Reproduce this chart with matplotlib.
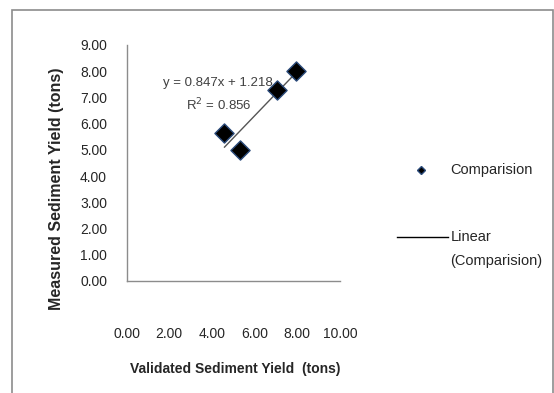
import matplotlib
matplotlib.use("Agg")
import matplotlib.pyplot as plt
from matplotlib.lines import Line2D
from matplotlib.patches import Rectangle
import numpy as np

# Validated vs measured sediment yield (tons)
validated = [4.59, 5.32, 7.03, 7.94]
measured = [5.65, 4.98, 7.30, 8.01]
slope = 0.847
intercept = 1.218
r_squared = 0.856
x_ticks = [0, 2, 4, 6, 8, 10]
y_ticks = [0, 1, 2, 3, 4, 5, 6, 7, 8, 9]

font = ["Liberation Sans Narrow", "Liberation Sans", "DejaVu Sans"]
plt.rcParams["font.family"] = font
text_color = "#262626"

fig = plt.figure(figsize=(5.54, 3.93), dpi=100)
fig.patch.set_facecolor("white")

# outer chart-area frame
fig.patches.append(Rectangle((12 / 554, -0.05), 541 / 554, 1.05 - 10 / 393,
                             transform=fig.transFigure, fill=False,
                             edgecolor="#8c8c8c", linewidth=1.2))

ax = fig.add_axes([126.5 / 554, 1 - 281 / 393, (340 - 126.5) / 554, (281 - 45) / 393])
ax.set_xlim(0, 10)
ax.set_ylim(0, 9)
for s in ("top", "right"):
    ax.spines[s].set_visible(False)
for s in ("left", "bottom"):
    ax.spines[s].set_color("#8c8c8c")
    ax.spines[s].set_linewidth(1.0)

ax.set_xticks(x_ticks)
ax.set_yticks(y_ticks)
ax.set_xticklabels([f"{v:.2f}" for v in x_ticks])
ax.set_yticklabels([f"{v:.2f}" for v in y_ticks])
ax.tick_params(axis="x", length=0, pad=33, labelsize=10, labelcolor=text_color)
ax.tick_params(axis="y", length=0, pad=14, labelsize=10, labelcolor=text_color)

ax.scatter(validated, measured, marker="D", s=95, facecolor="black",
           edgecolor="#2a4a7a", linewidth=1.0, zorder=3)

xfit = np.array([min(validated), max(validated)])
ax.plot(xfit, slope * xfit + intercept, color="#555555", linewidth=1.0, zorder=2)

ax.text(4.3, 7.55, f"y = {slope:.3f}x + {intercept:.3f}", ha="center", va="center",
        fontsize=9.5, color="#404040", zorder=4)
ax.text(4.3, 6.7, f"R$^2$ = {r_squared:.3f}", ha="center", va="center",
        fontsize=9.5, color="#404040", zorder=4)

ax.set_xlabel("Validated Sediment Yield  (tons)", fontsize=10, fontweight="bold",
              color=text_color)
ax.set_ylabel("Measured Sediment Yield (tons)", fontsize=11.5, fontweight="bold",
              color=text_color)
ax.xaxis.set_label_coords(0.51, -0.345)
ax.yaxis.set_label_coords(-0.295, 0.39)

# legend
fig.add_artist(Line2D([420.5 / 554], [1 - 169.6 / 393], marker="D", markersize=4,
                      color="black", markeredgecolor="#2a4a7a", transform=fig.transFigure))
fig.text(450.5 / 554, 1 - 169.6 / 393, "Comparision", ha="left", va="center",
         fontsize=10.5, color=text_color)
fig.add_artist(Line2D([396.5 / 554, 448 / 554], [1 - 236.7 / 393, 1 - 236.7 / 393],
                      color="black", linewidth=1.0, transform=fig.transFigure))
fig.text(450.5 / 554, 1 - 236.7 / 393, "Linear", ha="left", va="center",
         fontsize=10.5, color=text_color)
fig.text(450.5 / 554, 1 - 261.5 / 393, "(Comparision)", ha="left", va="center",
         fontsize=10.5, color=text_color)

fig.savefig("out.png", dpi=100)
